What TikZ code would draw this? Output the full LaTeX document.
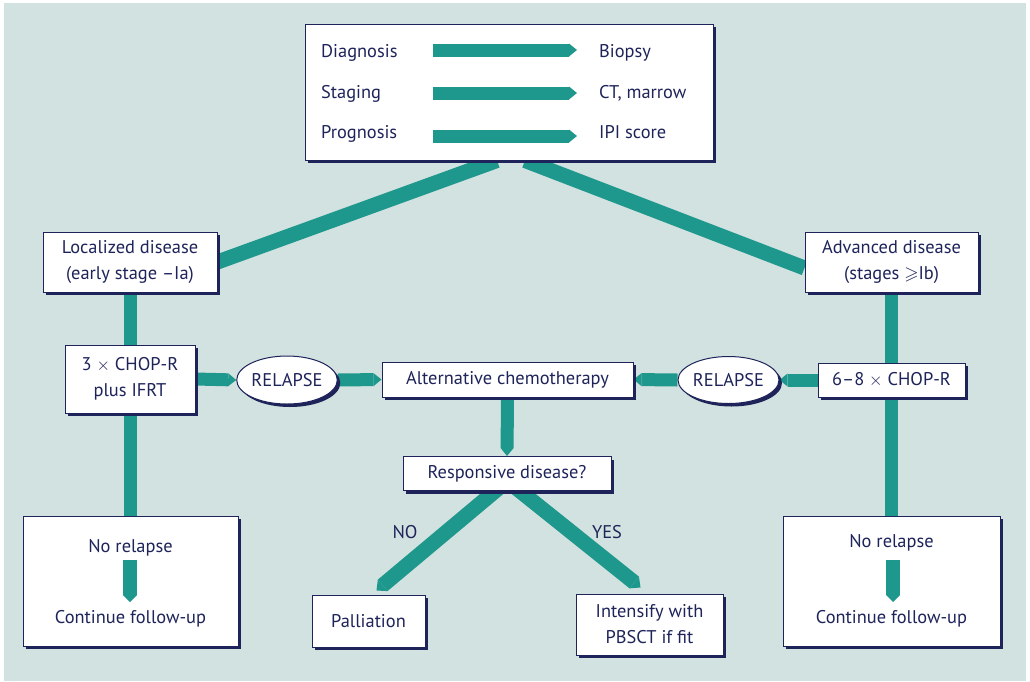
\documentclass[tikz,border=0pt]{standalone}
\usepackage{amssymb}
\usepackage{fontspec}
\setmainfont{PT Sans}
\usetikzlibrary{arrows.meta,shapes.geometric,shadows,backgrounds}
\definecolor{navy}{RGB}{30,36,90}
\definecolor{bandteal}{RGB}{30,152,140}
\definecolor{paper}{RGB}{210,226,224}

\begin{document}
\begin{tikzpicture}[x=1pt,y=-1pt,
  every node/.style={text=navy, font=\fontsize{18.4}{26}\selectfont, inner sep=0pt},
  box/.style={draw=navy, line width=1pt, fill=white, align=center,
    drop shadow={shadow xshift=3pt, shadow yshift=-3pt, fill=navy, opacity=1}},
  oval/.style={ellipse, box},
  band/.style={draw=bandteal, line width=13pt},
  wideband/.style={draw=bandteal, line width=15pt},
  tip/.style={-{Triangle[length=8pt,width=13pt,line width=0pt]}},
  widetip/.style={-{Triangle[length=8pt,width=15pt,line width=0pt]}}
]
\useasboundingbox (0,0) rectangle (1030,681);

% header box with the three work-up steps
\node[box, minimum width=408pt, minimum height=136pt] (top) at (509,92) {};
\node[anchor=base west] (dg) at (321,57) {Diagnosis};
\node[anchor=base west] (st) at (321,98) {Staging};
\node[anchor=base west] (pg) at (321,138) {Prognosis};
\node[anchor=base west] (bp) at (599,57) {Biopsy};
\node[anchor=base west] (ct) at (599,98) {CT, marrow};
\node[anchor=base west] (ip) at (599,138) {IPI score};
\coordinate (dgA) at (433,50);  \coordinate (dgB) at (577,50);
\coordinate (stA) at (433,93);  \coordinate (stB) at (577,93);
\coordinate (pgA) at (433,136); \coordinate (pgB) at (577,136);
\draw[band, tip] (dgA) -- (dgB);
\draw[band, tip] (stA) -- (stB);
\draw[band, tip] (pgA) -- (pgB);

% disease stage boxes
\node[box, minimum width=174pt, minimum height=60pt] (loc) at (130,262)
  {Localized disease\\(early stage –Ia)};
\node[box, minimum width=173pt, minimum height=60pt] (adv) at (891.5,262)
  {Advanced disease\\(stages $\geqslant$Ib)};

% treatment row
\node[box, minimum width=130pt, minimum height=68pt] (chopa) at (130,379)
  {3 $\times$ CHOP-R\\plus IFRT};
\node[oval, minimum width=100pt, minimum height=48pt] (rela) at (287,380) {RELAPSE};
\node[box, minimum width=251pt, minimum height=35pt] (alt) at (507.5,379.5)
  {Alternative chemotherapy};
\node[oval, minimum width=101pt, minimum height=47pt] (relb) at (728.5,380) {RELAPSE};
\node[box, minimum width=147pt, minimum height=34pt] (chopb) at (891.5,380)
  {6–8 $\times$ CHOP-R};

% response decision
\node[box, minimum width=208pt, minimum height=34pt] (resp) at (507,473.5)
  {Responsive disease?};
\node (no) at (405,532) {NO};
\node (yes) at (607,532) {YES};
\node[box, minimum width=113pt, minimum height=52pt] (pall) at (368.5,621) {Palliation};
\node[box, minimum width=147pt, minimum height=61pt] (inten) at (649.5,624.5)
  {Intensify with\\PBSCT if fit};

% follow-up boxes
\node[box, minimum width=215pt, minimum height=130pt] (nra) at (130.5,581) {};
\node[anchor=base] (nraT) at (130.5,552) {No relapse};
\node[anchor=base] (nraB) at (130.5,623) {Continue follow-up};
\node[box, minimum width=217pt, minimum height=130pt] (nrb) at (891.5,581) {};
\node[anchor=base] (nrbT) at (891.5,547) {No relapse};
\node[anchor=base] (nrbB) at (891.5,623) {Continue follow-up};
\coordinate (nraS) at (130,560); \coordinate (nraE) at (130,602);
\coordinate (nrbS) at (893,560); \coordinate (nrbE) at (893,602);
\draw[band, line width=14pt, -{Triangle[length=7pt,width=14pt,line width=0pt]}] (nraS) -- (nraE);
\draw[band, line width=14pt, -{Triangle[length=7pt,width=14pt,line width=0pt]}] (nrbS) -- (nrbE);

\begin{pgfonlayer}{background}
  \fill[white] (0,0) rectangle (1030,681);
  \fill[paper] (4,3) rectangle (1026,681);
  % branches out of the header
  \draw[wideband] ([xshift=-12pt]top.south) -- (loc.east);
  \draw[wideband] ([xshift=16pt]top.south) -- ([yshift=-6pt]adv.west);
  % left column
  \draw[band] (loc.south) -- (chopa.north);
  \draw[band] (chopa.south) -- (chopa.south |- nra.north);
  \draw[band, tip] (chopa.east) -- (rela.west);
  \draw[band, tip] (rela.east) -- (alt.west);
  % right column
  \draw[band] (adv.south) -- (chopb.north);
  \draw[band] (chopb.south) -- (nrb.north);
  \draw[band, tip] (chopb.west) -- (relb.east);
  \draw[band, tip] (relb.west) -- (alt.east);
  % centre
  \draw[band, tip] (alt.south) -- (resp.north);
  \draw[wideband, widetip] ([xshift=-7pt,yshift=4pt]resp.south) -- ([xshift=8pt,yshift=4pt]pall.north);
  \draw[wideband, widetip] ([xshift=8pt,yshift=4pt]resp.south) -- ([xshift=-9pt,yshift=6pt]inten.north);
\end{pgfonlayer}
\end{tikzpicture}
\end{document}
